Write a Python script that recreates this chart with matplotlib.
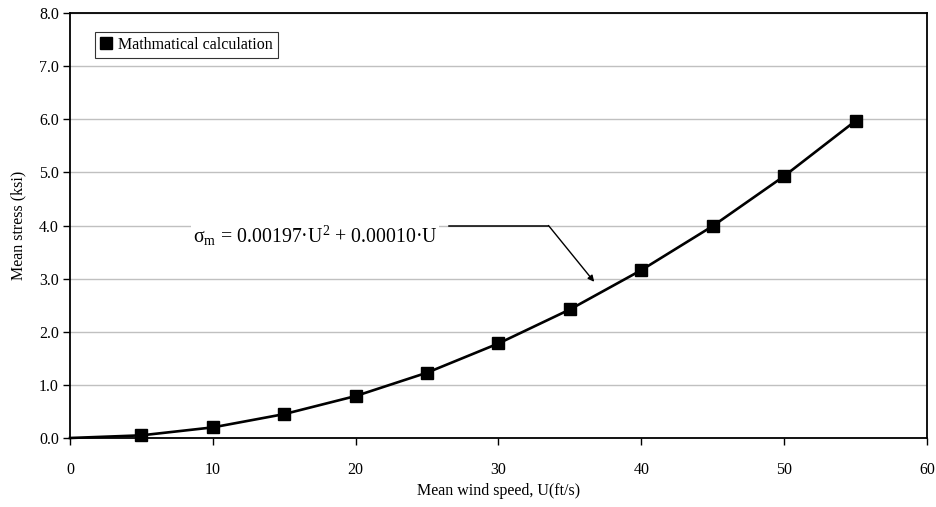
import matplotlib
matplotlib.use('Agg')
import matplotlib.pyplot as plt
import numpy as np

plt.rcParams['font.family'] = ['Liberation Serif', 'DejaVu Serif']

# values
wind_speed = [0, 5, 10, 15, 20, 25, 30, 35, 40, 45, 50, 55]
mean_stress = [0.0, 0.05, 0.20, 0.45, 0.79, 1.23, 1.78, 2.42, 3.16, 3.99, 4.93, 5.97]
x_ticks = [0, 10, 20, 30, 40, 50, 60]
y_ticks = [0, 1, 2, 3, 4, 5, 6, 7, 8]

fig = plt.figure(figsize=(9.37, 5.07), dpi=100)
ax = fig.add_axes([70/937, 69/507, 857/937, 425/507])

ax.plot(wind_speed, mean_stress, color='black', lw=1.9,
        marker='s', ms=8.5, markevery=list(range(1, len(wind_speed))),
        label='Mathmatical calculation', zorder=3, clip_on=False)

ax.set_xlim(0, 60)
ax.set_ylim(0, 8)
ax.set_xticks(x_ticks)
ax.set_yticks(y_ticks)
ax.set_yticklabels(['%.1f' % v for v in y_ticks])
ax.grid(axis='y', color='#c0c0c0', lw=1)
ax.set_axisbelow(True)
for s in ax.spines.values():
    s.set_linewidth(1.3)
    s.set_color('black')
ax.tick_params(axis='both', direction='out', length=5, width=1, labelsize=11.5)
ax.tick_params(axis='x', pad=12)
ax.tick_params(axis='y', pad=3)

ax.set_xlabel('Mean wind speed, U(ft/s)', fontsize=11.5, labelpad=4)
ax.set_ylabel('Mean stress (ksi)', fontsize=11.5, labelpad=9)

leg = ax.legend(loc='upper left', bbox_to_anchor=(0.029, 0.955), fontsize=11.5,
                frameon=True, fancybox=False, edgecolor='black',
                handlelength=0.8, handletextpad=0.35, borderpad=0.3,
                borderaxespad=0)
leg.get_frame().set_linewidth(0.8)
for h in leg.legend_handles:
    h.set_linestyle('none')

ax.text(8.6, 3.81, r'$\mathregular{\sigma_m}$ = 0.00197·U$\mathregular{^2}$ + 0.00010·U',
        fontsize=14.3, ha='left', va='center', zorder=4,
        bbox=dict(facecolor='white', edgecolor='none', pad=1))
ax.plot([26.5, 33.5], [4.0, 4.0], color='black', lw=1.1, zorder=4)
ax.annotate('', xy=(36.7, 2.94), xytext=(33.5, 4.0),
            arrowprops=dict(arrowstyle='-|>', color='black', lw=1.0,
                            mutation_scale=9, shrinkA=0, shrinkB=0), zorder=4)

fig.savefig('out.png', dpi=100)
